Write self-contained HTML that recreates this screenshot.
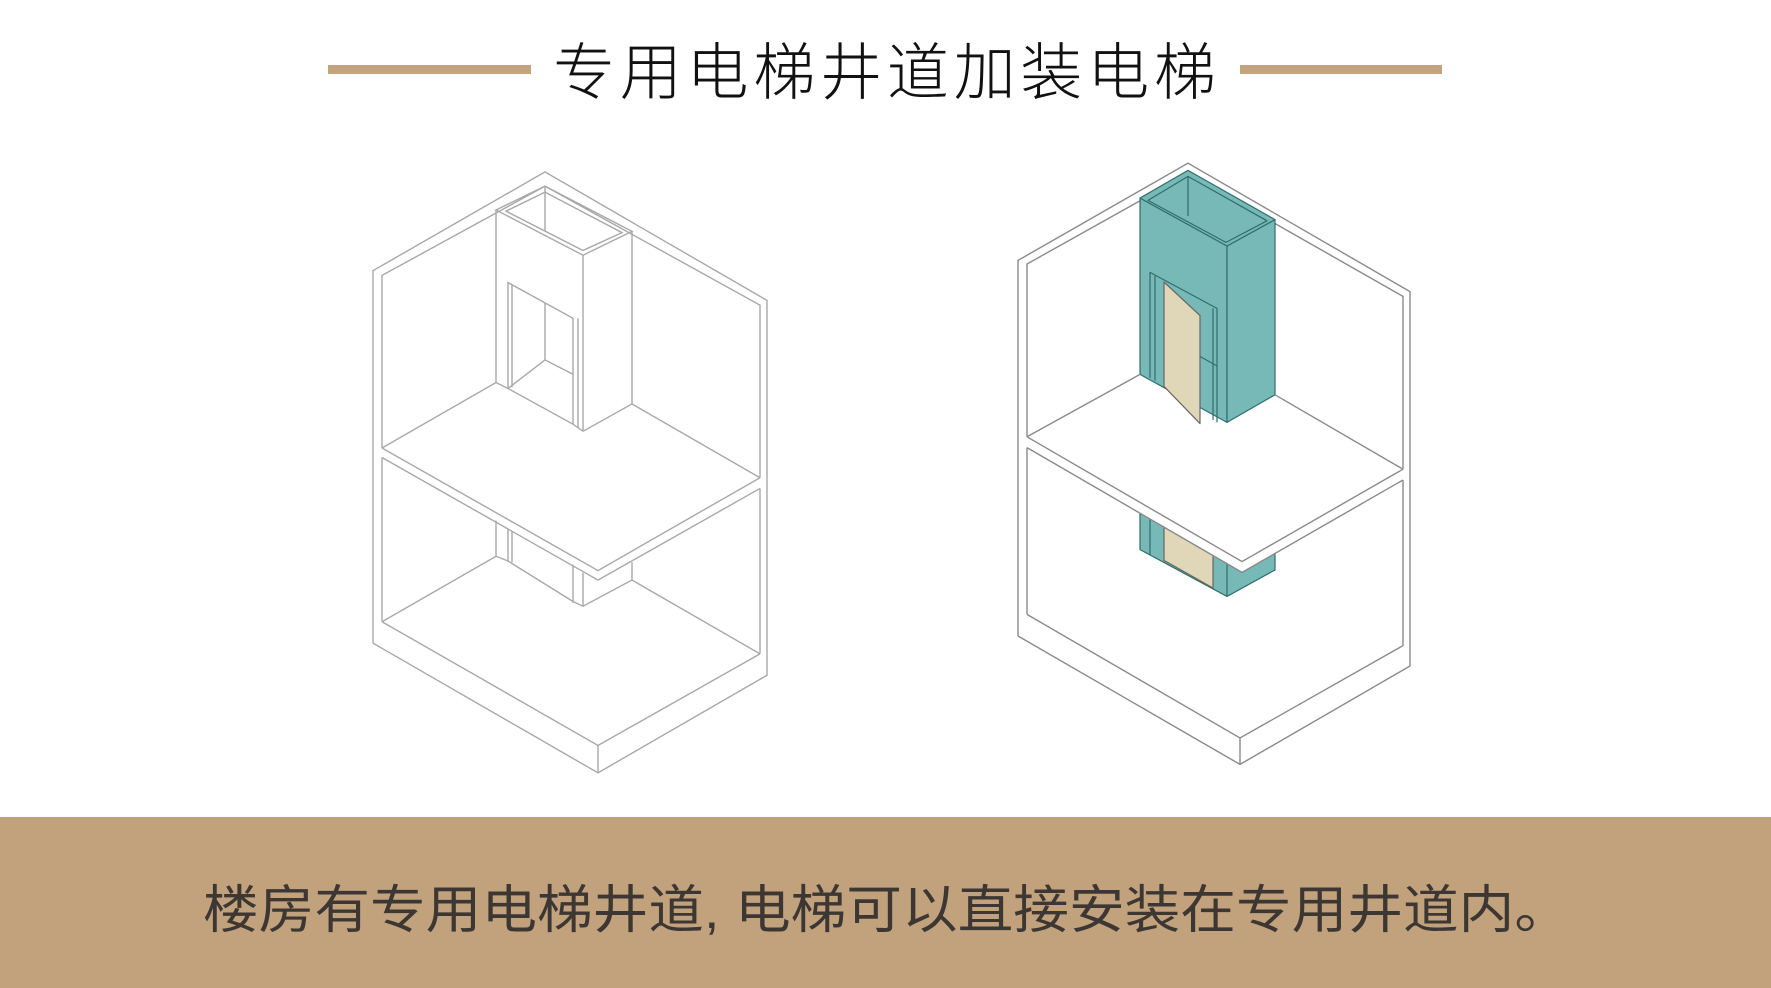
<!DOCTYPE html>
<html><head><meta charset="utf-8"><style>
html,body{margin:0;padding:0;background:#fff;}
svg{display:block;}
</style></head><body>
<svg width="1771" height="988" viewBox="0 0 1771 988" xmlns="http://www.w3.org/2000/svg">
<rect width="1771" height="988" fill="#fff"/>
<!-- title -->
<rect x="328" y="65" width="203" height="9" fill="#c4a47f"/>
<rect x="1240" y="65" width="202" height="9" fill="#c4a47f"/>
<text x="553" y="94" font-family="Liberation Sans, Noto Sans CJK SC, sans-serif" font-size="62" font-weight="300" fill="#111" textLength="663" lengthAdjust="spacing">专用电梯井道加装电梯</text>

<!-- LEFT drawing -->
<g transform="translate(0,160) scale(1,1.19) translate(0,-160)">
<g fill="none" stroke="#a8a8a8" stroke-width="1.4" vector-effect="non-scaling-stroke">
<polyline vector-effect="non-scaling-stroke" points="373,566 373,253 545,170 767,278 767,593 598,675 373,566"/>
<line vector-effect="non-scaling-stroke" x1="598" y1="652" x2="598" y2="675"/>
<polyline vector-effect="non-scaling-stroke" points="382,402 382,257 545,182 760,282 760,427"/>
<polyline vector-effect="non-scaling-stroke" points="382,548 382,410"/>
<line vector-effect="non-scaling-stroke" x1="760" y1="436" x2="760" y2="575"/>
<polyline vector-effect="non-scaling-stroke" points="382,402 598,505 760,427"/>
<polyline vector-effect="non-scaling-stroke" points="382,410 598,513 760,436"/>
<polyline vector-effect="non-scaling-stroke" points="382,548 598,652 760,575"/>
<polygon vector-effect="non-scaling-stroke" points="496,202 583,240 632,220 545,182"/>
<polygon vector-effect="non-scaling-stroke" points="506,203 583,236 622,221 545,187"/>
<line vector-effect="non-scaling-stroke" x1="545" y1="182" x2="545" y2="220"/>
<line vector-effect="non-scaling-stroke" x1="496" y1="202" x2="496" y2="347"/>
<line vector-effect="non-scaling-stroke" x1="583" y1="240" x2="583" y2="388"/>
<line vector-effect="non-scaling-stroke" x1="632" y1="220" x2="632" y2="365"/>
<polyline vector-effect="non-scaling-stroke" points="382,402 496,347 508,352"/>
<polyline vector-effect="non-scaling-stroke" points="583,388 632,365 760,427"/>
<polyline vector-effect="non-scaling-stroke" points="508,352 508,263 573,293 573,382"/>
<line vector-effect="non-scaling-stroke" x1="578" y1="293" x2="578" y2="385"/>
<line vector-effect="non-scaling-stroke" x1="512" y1="265" x2="512" y2="351"/>
<line vector-effect="non-scaling-stroke" x1="545" y1="280" x2="545" y2="328"/>
<polyline vector-effect="non-scaling-stroke" points="508,352 545,328 573,340"/>
<polyline vector-effect="non-scaling-stroke" points="508,352 573,382 583,388"/>
<line vector-effect="non-scaling-stroke" x1="496" y1="463" x2="496" y2="493"/>
<line vector-effect="non-scaling-stroke" x1="508" y1="470" x2="508" y2="497"/>
<line vector-effect="non-scaling-stroke" x1="512" y1="472" x2="512" y2="498"/>
<line vector-effect="non-scaling-stroke" x1="583" y1="507" x2="583" y2="535"/>
<line vector-effect="non-scaling-stroke" x1="573" y1="500" x2="573" y2="532"/>
<line vector-effect="non-scaling-stroke" x1="632" y1="498" x2="632" y2="513"/>
<polyline vector-effect="non-scaling-stroke" points="382,548 496,493 508,497 573,531 583,535 632,513 760,575"/>
</g>
</g>

<!-- RIGHT drawing -->
<g transform="translate(0,150) scale(1,1.2) translate(0,-150)">
<g fill="none" stroke="#8a8a8a" stroke-width="1.4">
<polyline vector-effect="non-scaling-stroke" points="1018,555 1018,242 1188,161 1410,268 1410,580 1240,662 1018,555"/>
<line vector-effect="non-scaling-stroke" x1="1240" y1="640" x2="1240" y2="662"/>
<polyline vector-effect="non-scaling-stroke" points="1027,389 1027,245 1188,170 1403,272 1403,416"/>
<line vector-effect="non-scaling-stroke" x1="1027" y1="398" x2="1027" y2="537"/>
<line vector-effect="non-scaling-stroke" x1="1403" y1="425" x2="1403" y2="563"/>
<polyline vector-effect="non-scaling-stroke" points="1027,537 1240,640 1403,563"/>
</g>
<g stroke="#2f6e6c" stroke-width="1.2">
<polygon vector-effect="non-scaling-stroke" points="1140,440 1227,470 1275,450 1275,500 1227,522 1140,483" fill="#76b9b6"/>
<line vector-effect="non-scaling-stroke" x1="1227" y1="470" x2="1227" y2="522"/>
<line vector-effect="non-scaling-stroke" x1="1150" y1="450" x2="1150" y2="487"/>
<polygon vector-effect="non-scaling-stroke" points="1164,455 1213,478 1213,515 1164,492" fill="#e0d6b8" stroke="#666"/>
</g>
<polygon points="1027,389 1188,313 1403,416 1403,425 1242,502 1027,398" fill="#fff" stroke="none"/>
<g fill="none" stroke="#8a8a8a" stroke-width="1.4">
<polyline vector-effect="non-scaling-stroke" points="1027,389 1242,493 1403,416"/>
<polyline vector-effect="non-scaling-stroke" points="1027,398 1242,502 1403,425"/>
</g>
<g stroke="#2f6e6c" stroke-width="1.2" stroke-linejoin="round">
<polygon vector-effect="non-scaling-stroke" points="1140,190 1227,230 1227,377 1140,337" fill="#76b9b6"/>
<polygon vector-effect="non-scaling-stroke" points="1227,230 1275,208 1275,354 1227,377" fill="#76b9b6"/>
<polygon vector-effect="non-scaling-stroke" points="1140,190 1188,167 1275,208 1227,230" fill="#76b9b6"/>
<polygon vector-effect="non-scaling-stroke" points="1148,192 1188,172 1267,209 1226,227" fill="#76b9b6"/>
<line vector-effect="non-scaling-stroke" x1="1188" y1="172" x2="1188" y2="205"/>
<polyline vector-effect="non-scaling-stroke" points="1150,340 1150,252 1217,282 1217,377" fill="none"/>
<line vector-effect="non-scaling-stroke" x1="1155" y1="255" x2="1155" y2="342"/>
<line vector-effect="non-scaling-stroke" x1="1213" y1="282" x2="1213" y2="375"/>
<line vector-effect="non-scaling-stroke" x1="1200" y1="322" x2="1217" y2="330"/>
<polygon vector-effect="non-scaling-stroke" points="1164,260 1200,288 1200,378 1164,347" fill="#e0d6b8" stroke="#666"/>
</g>
<line vector-effect="non-scaling-stroke" x1="1027" y1="389" x2="1140" y2="337" stroke="#8a8a8a" stroke-width="1.4"/>
<line vector-effect="non-scaling-stroke" x1="1275" y1="354" x2="1403" y2="416" stroke="#8a8a8a" stroke-width="1.4"/>
</g>

<!-- bottom band -->
<rect x="0" y="817" width="1771" height="171" fill="#c2a27d"/>
<text x="203" y="928" font-family="Liberation Sans, Noto Sans CJK SC, sans-serif" font-size="52" fill="#3d3733" textLength="1367" lengthAdjust="spacingAndGlyphs">楼房有专用电梯井道, 电梯可以直接安装在专用井道内。</text>
</svg>
</body></html>
